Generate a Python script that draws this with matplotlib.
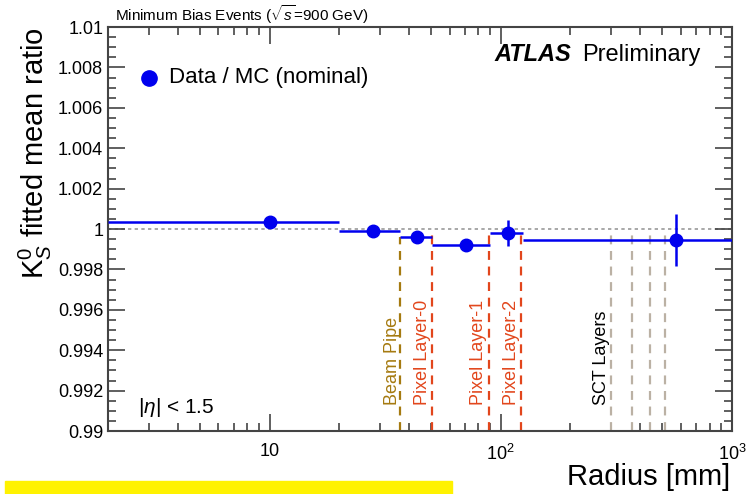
import numpy as np
import matplotlib.pyplot as plt
from matplotlib.patches import Rectangle

plt.rcParams['font.family'] = ['Liberation Sans', 'DejaVu Sans']
plt.rcParams['mathtext.fontset'] = 'custom'
plt.rcParams['mathtext.rm'] = 'Liberation Sans'
plt.rcParams['mathtext.it'] = 'Liberation Sans:italic'

# bins in radius [mm]
bin_lo = [2, 20, 36.5, 50.5, 89.5, 124.5]
bin_hi = [20, 36.5, 50.5, 89.5, 124.5, 1000]
x_pts = [10, 28, 43.5, 70.5, 107, 575]
ratio = [1.00035, 0.9999, 0.9996, 0.9992, 0.9998, 0.99945]
err = [0.0001, 0.00008, 0.00008, 0.00015, 0.00065, 0.0013]

beam_pipe = 36.5
pixel_layers = [50.5, 88.5, 122.5]
sct_layers = [299, 371, 443, 514]

fig = plt.figure(figsize=(7.48, 4.94), dpi=100)
ax = fig.add_axes([108 / 748, 1 - 431 / 494, (732 - 108) / 748, (431 - 27) / 494])

ax.set_xscale('log')
ax.set_xlim(2, 1000)
ax.set_ylim(0.99, 1.01)

ax.axhline(1.0, color='#999999', ls=(0, (2, 2)), lw=1.2, zorder=1)

ax.vlines(beam_pipe, 0.99, 0.9996, colors='#a57a10', linestyles=(0, (4, 3)), lw=1.6, zorder=2)
ax.vlines(pixel_layers, 0.99, 1.0, colors='#e2461c', linestyles=(0, (4, 3)), lw=1.6, zorder=2)
ax.vlines(sct_layers, 0.99, 1.0, colors='#bbb1a4', linestyles=(0, (4, 3)), lw=1.6, zorder=2)

xerr_lo = np.array(x_pts) - np.array(bin_lo)
xerr_hi = np.array(bin_hi) - np.array(x_pts)
ax.errorbar(x_pts, ratio, xerr=[xerr_lo, xerr_hi], yerr=err, fmt='o', color='#0000ee',
            ms=9, lw=1.8, capsize=0, zorder=3)

ax.text(37.5 / 1.1, 0.9913, 'Beam Pipe', rotation=90, color='#a57a10', fontsize=13,
        ha='center', va='bottom')
for r, lab in zip(pixel_layers, ['Pixel Layer-0', 'Pixel Layer-1', 'Pixel Layer-2']):
    ax.text(r / 1.1, 0.9913, lab, rotation=90, color='#e2461c', fontsize=13,
            ha='center', va='bottom')
ax.text(299 / 1.1, 0.9913, 'SCT Layers', rotation=90, color='black', fontsize=13,
        ha='center', va='bottom')

ax.text(0.048, 0.045, r'$|\eta|$ < 1.5', transform=ax.transAxes, fontsize=15)
ax.text(0.62, 0.915, 'ATLAS', transform=ax.transAxes, fontsize=17,
        fontweight='bold', style='italic')
ax.text(0.76, 0.915, 'Preliminary', transform=ax.transAxes, fontsize=17)

ax.plot([3.02], [1.00748], 'o', color='#0000ee', ms=11)
ax.text(3.69, 1.00748, 'Data / MC (nominal)', fontsize=16, va='center')

ax.set_ylabel(r'K$^0_S$ fitted mean ratio', fontsize=21, loc='top', labelpad=3)
ax.set_xlabel('Radius [mm]', fontsize=21)
ax.xaxis.set_label_coords(0.997, -0.08)
ax.xaxis.label.set_ha('right')

ax.set_yticks([0.99, 0.992, 0.994, 0.996, 0.998, 1.0, 1.002, 1.004, 1.006, 1.008, 1.01])
ax.set_yticklabels(['0.99', '0.992', '0.994', '0.996', '0.998', '1', '1.002', '1.004',
                    '1.006', '1.008', '1.01'])
ax.set_yticks(np.arange(0.99, 1.01, 0.0005), minor=True)
ax.set_xticks([10, 100, 1000])
ax.set_xticklabels(['10', '$10^2$', '$10^3$'])
ax.tick_params(which='both', direction='in', top=True, right=True, labelsize=13, width=1.2,
               color='#444444')
ax.tick_params(which='major', length=12)
ax.tick_params(which='minor', length=6)
ax.tick_params(axis='x', which='major', pad=9)
for s in ax.spines.values():
    s.set_linewidth(1.5)
    s.set_color('#444444')

fig.text(115 / 748, 1 - 15 / 494, r'Minimum Bias Events ($\sqrt{s}$=900 GeV)', fontsize=11,
         va='center')

fig.patches.append(Rectangle((5 / 748, 0), 447 / 748, 13 / 494, transform=fig.transFigure,
                             color='#fff200', zorder=0))

fig.savefig('out.png', dpi=100)
